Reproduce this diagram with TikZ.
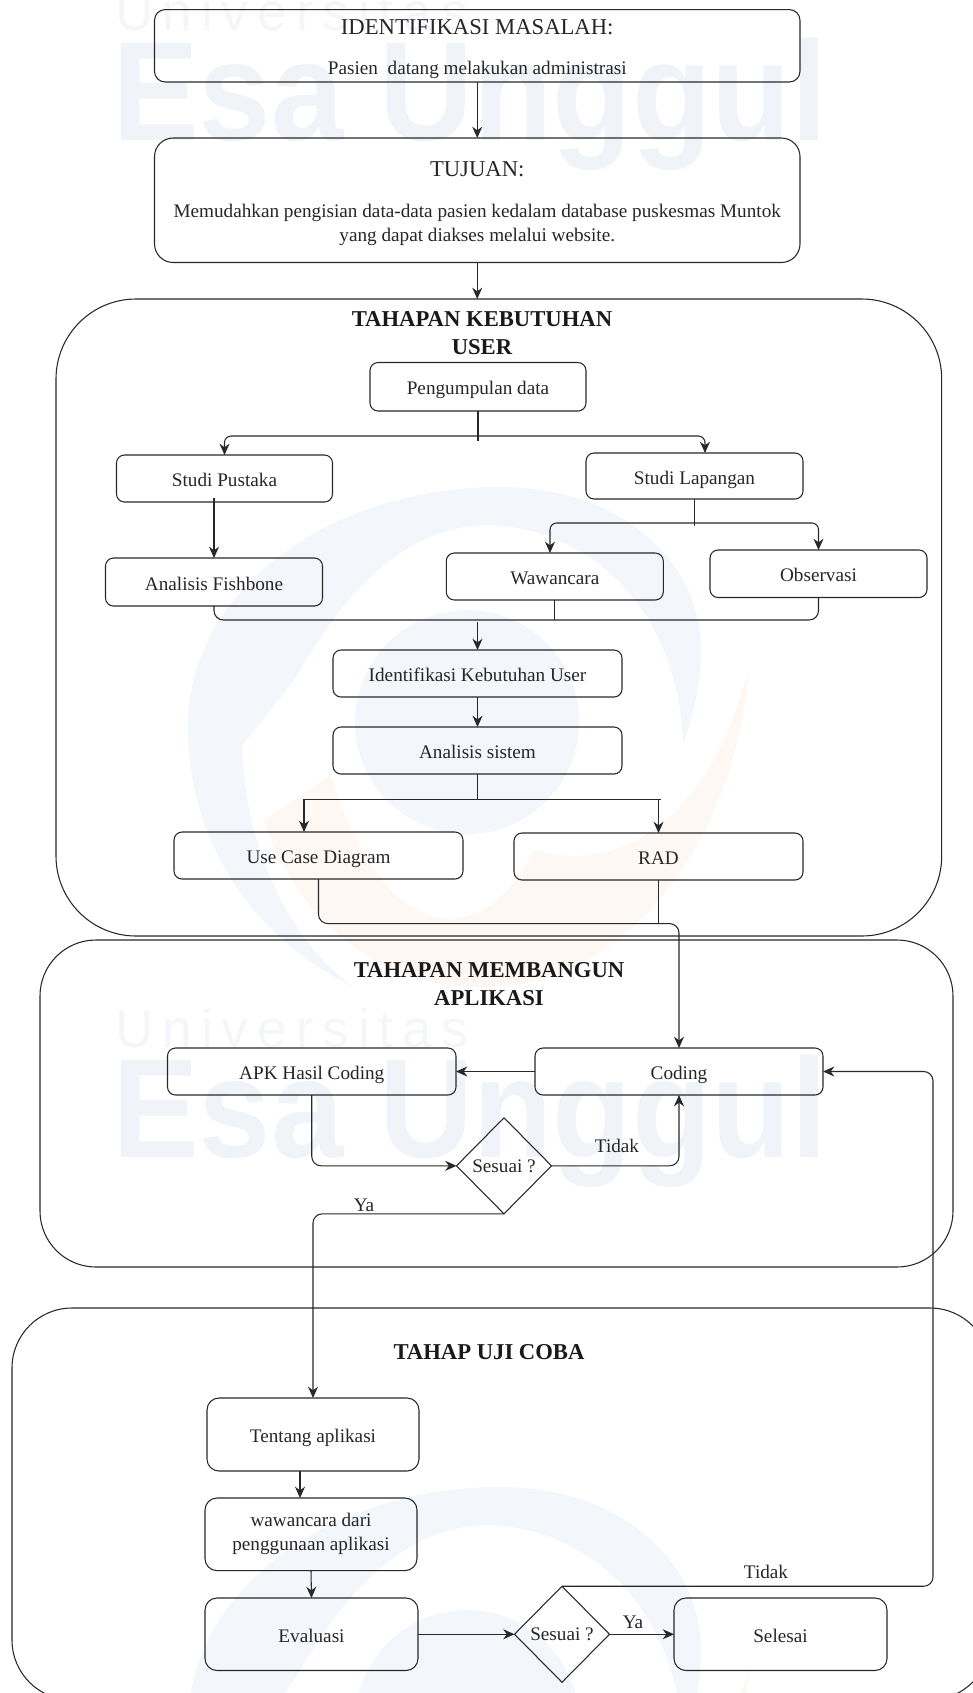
\documentclass[tikz,border=0pt]{standalone}
\usepackage{fontspec}
\setmainfont{Liberation Serif}
\newfontfamily\wmfont{Liberation Sans}
\usetikzlibrary{arrows.meta,shapes.geometric}
\definecolor{linegray}{RGB}{40,40,40}
\definecolor{wmblue}{RGB}{240,244,249}
\definecolor{wmlogo}{RGB}{243,246,250}
\definecolor{wmorange}{RGB}{254,248,244}
\definecolor{wmlight}{RGB}{244,246,249}
\tikzset{
  flowbox/.style 2 args={draw=linegray,line width=0.8pt,rounded corners=6pt,inner sep=0pt,outer sep=0pt,
    align=center,text=black!85,minimum width=#1*0.75pt,minimum height=#2*0.75pt,
    text height=14pt,text depth=2pt,font=\fontsize{14.4}{18}\selectfont},
  flowtext/.style={text height=,text depth=},
  decisionbox/.style={diamond,draw=linegray,line width=0.8pt,inner sep=0pt,outer sep=0pt,shape aspect=1,
    text=black!85,minimum width=71.25pt,minimum height=72pt,font=\fontsize{14.4}{18}\selectfont},
  groupbox/.style 2 args={draw=linegray,line width=0.8pt,inner sep=0pt,outer sep=0pt,
    minimum width=#1*0.75pt,minimum height=#2*0.75pt},
  grouptitle/.style={inner sep=0pt,align=center,text=black!90,font=\fontsize{17}{21}\selectfont\bfseries},
  flowlabel/.style={inner sep=0pt,text=black!85,font=\fontsize{14.4}{18}\selectfont},
  flowline/.style={draw=linegray,line width=0.8pt},
  flowarrow/.style={flowline,-{Stealth[length=8.5pt,width=7.5pt]}},
}
\begin{document}
\begin{tikzpicture}[x=0.75pt,y=0.75pt,yscale=-1,xscale=1]
\useasboundingbox (0,0) rectangle (973,1693);
\clip (0,0) rectangle (973,1693);

%Watermark
\foreach \wmshift in {0,1017} {
  \begin{scope}[shift={(0,\wmshift)}]
    \node [anchor=base west,inner sep=0pt,text=wmblue,font=\wmfont\fontsize{106}{106}\selectfont\bfseries] (wmname\wmshift) at (112,140) {\scalebox{0.92}[1]{Esa Unggul}};
    \node [anchor=base west,inner sep=0pt,text=wmlight,font=\wmfont\fontsize{40}{40}\selectfont] (wmuni\wmshift) at (115,30) {U\,n\,i\,v\,e\,r\,s\,i\,t\,a\,s};
  \end{scope}
}
\foreach \wmshift in {0,1000} {
  \begin{scope}[shift={(0,\wmshift)}]
    \fill [wmlogo] (353,987) .. controls (240,930) and (188,830) .. (188,726) .. controls (188,590) and (330,487) .. (500,487) .. controls (620,487) and (701,560) .. (701,650) .. controls (701,680) and (695,710) .. (683,745) .. controls (680,620) and (600,530) .. (490,525) .. controls (400,525) and (340,600) .. (295,679) -- (242,746) .. controls (245,850) and (290,940) .. (353,987) -- cycle;
    \fill [wmlogo] (467,722) circle [radius=112];
    \fill [wmorange] (264,820) .. controls (300,930) and (390,990) .. (487,987) .. controls (640,985) and (740,820) .. (748,669) .. controls (720,790) and (640,880) .. (534,850) .. controls (480,960) and (380,940) .. (331,775) -- cycle;
  \end{scope}
}

%Shape: Group boxes
\node [groupbox={885.7}{637},rounded corners=60pt] (kebutuhanbox) at (498.85,617.5) {};
\node [groupbox={913}{327},rounded corners=42pt] (membangunbox) at (496.5,1103.5) {};
\node [groupbox={978}{392},rounded corners=45pt] (ujicobabox) at (501,1504) {};

%Shape: Flow boxes
\node [flowbox={645.5}{72.4},flowtext,rounded corners=8pt] (masalah) at (477.25,45.8) {\fontsize{17}{20}\selectfont\rule{0pt}{15.5pt}IDENTIFIKASI MASALAH:\\[12pt]Pasien\ \ datang melakukan administrasi};
\node [flowbox={645.5}{124.5},flowtext,rounded corners=14pt] (tujuan) at (477.25,200.25) {\fontsize{17}{20}\selectfont\rule{0pt}{16.5pt}TUJUAN:\\[12.5pt]Memudahkan pengisian data-data pasien kedalam database puskesmas Muntok\\yang dapat diakses melalui website.};
\node [flowbox={216}{48.5}] (pengumpulan) at (478,386.75) {Pengumpulan data};
\node [flowbox={216}{47}] (pustaka) at (224.5,478.5) {Studi Pustaka};
\node [flowbox={217}{46}] (lapangan) at (694.5,476) {Studi Lapangan};
\node [flowbox={217}{48}] (fishbone) at (214,582) {Analisis Fishbone};
\node [flowbox={217}{47}] (wawancara) at (554.8,576.5) {Wawancara};
\node [flowbox={217}{47.5}] (observasi) at (818.5,573.75) {Observasi};
\node [flowbox={289}{47}] (identifikasi) at (477.5,673.5) {Identifikasi Kebutuhan User};
\node [flowbox={289}{47}] (analisis) at (477.5,750.5) {Analisis sistem};
\node [flowbox={289}{47}] (usecase) at (318.5,855.5) {Use Case Diagram};
\node [flowbox={289}{47}] (rad) at (658.5,856.5) {RAD};
\node [flowbox={288.5}{47}] (apk) at (311.75,1071.5) {APK Hasil Coding};
\node [flowbox={288}{47}] (coding) at (679,1071.5) {Coding};
\node [decisionbox] (sesuaicoding) at (504,1165.8) {Sesuai ?};
\node [flowbox={212}{73},rounded corners=9pt] (tentang) at (313,1434.5) {Tentang aplikasi};
\node [flowbox={212}{72.6},flowtext,rounded corners=9pt] (wawancaraapp) at (311,1534.3) {wawancara dari\\penggunaan aplikasi};
\node [flowbox={213}{72.5},rounded corners=9pt] (evaluasi) at (311.5,1634.25) {Evaluasi};
\node [decisionbox] (sesuaiuji) at (562,1634.25) {Sesuai ?};
\node [flowbox={213}{72.5},rounded corners=9pt] (selesai) at (780.5,1634.25) {Selesai};

% Text Node
\node [grouptitle] (kebutuhantitle) at (482,333.5) {TAHAPAN KEBUTUHAN\\USER};
\node [grouptitle] (membanguntitle) at (489,984) {TAHAPAN MEMBANGUN\\APLIKASI};
\node [grouptitle] (ujicobatitle) at (489,1352) {TAHAP UJI COBA};
\node [flowlabel] (tidakcoding) at (617,1146) {Tidak};
\node [flowlabel] (yacoding) at (364,1205) {Ya};
\node [flowlabel] (tidakuji) at (766,1572) {Tidak};
\node [flowlabel] (yauji) at (633,1622) {Ya};

%Connector joints
\coordinate (pengumpulanjoin) at (478,436);
\coordinate (pengumpulanend) at (478,441);
\coordinate (pustakaout) at (214,498);
\coordinate (lapanganjoin) at (694.5,523);
\coordinate (lapanganend) at (694.5,526);
\coordinate (collectjoin) at (477.5,620);
\coordinate (sistemjoin) at (477.5,799.6);
\coordinate (sistemend) at (661,799.6);
\coordinate (codingjoin) at (500,923.6);
\coordinate (returnjoin) at (933,1071.5);

%Straight Lines
\draw [flowarrow] (masalah.south) -- (tujuan.north);
\draw [flowarrow] (tujuan.south) -- (tujuan.south |- kebutuhanbox.north);
\draw [flowline] (pengumpulan.south) -- (pengumpulanend);
\draw [flowarrow,rounded corners=5pt] (pengumpulanjoin) -| (pustaka.north);
\draw [flowarrow,rounded corners=5pt] (pengumpulanjoin) -| ([shift={(10.5,0)}]lapangan.north);
\draw [flowarrow] (pustakaout) -- (fishbone.north);
\draw [flowline] (lapangan.south) -- (lapanganend);
\draw [flowarrow,rounded corners=5pt] (lapanganjoin) -| ([shift={(-4.8,0)}]wawancara.north);
\draw [flowarrow,rounded corners=5pt] (lapanganjoin) -| (observasi.north);
\draw [flowline,rounded corners=7pt] (fishbone.south) |- (collectjoin) -| (observasi.south);
\draw [flowline] (wawancara.south) -- (wawancara.south |- collectjoin);
\draw [flowarrow] ([shift={(0,2)}]collectjoin) -- (identifikasi.north);
\draw [flowarrow] (identifikasi.south) -- (analisis.north);
\draw [flowline] (analisis.south) -- (sistemjoin) -- (sistemend);
\draw [flowarrow] (sistemjoin) -| ([shift={(-14.5,0)}]usecase.north);
\draw [flowarrow] (rad.north |- sistemjoin) -- (rad.north);
\draw [flowarrow,rounded corners=7pt] (usecase.south) |- (codingjoin) -| (coding.north);
\draw [flowline] (rad.south) -- (rad.south |- codingjoin);
\draw [flowarrow] (coding.west) -- (apk.east);
\draw [flowarrow,rounded corners=7pt] (apk.south) |- (sesuaicoding.west);
\draw [flowarrow,rounded corners=7pt] (sesuaicoding.east) -| (coding.south);
\draw [flowarrow,rounded corners=7pt] (sesuaicoding.south) -| (tentang.north);
\draw [flowarrow] ([shift={(-13,0)}]tentang.south) -- ([shift={(-11,0)}]wawancaraapp.north);
\draw [flowarrow] (wawancaraapp.south) -- (evaluasi.north);
\draw [flowarrow] (evaluasi.east) -- (sesuaiuji.west);
\draw [flowarrow] (sesuaiuji.east) -- (selesai.west);
\draw [flowarrow,rounded corners=7pt] (sesuaiuji.north) -| (returnjoin) -- (coding.east);

\end{tikzpicture}
\end{document}
